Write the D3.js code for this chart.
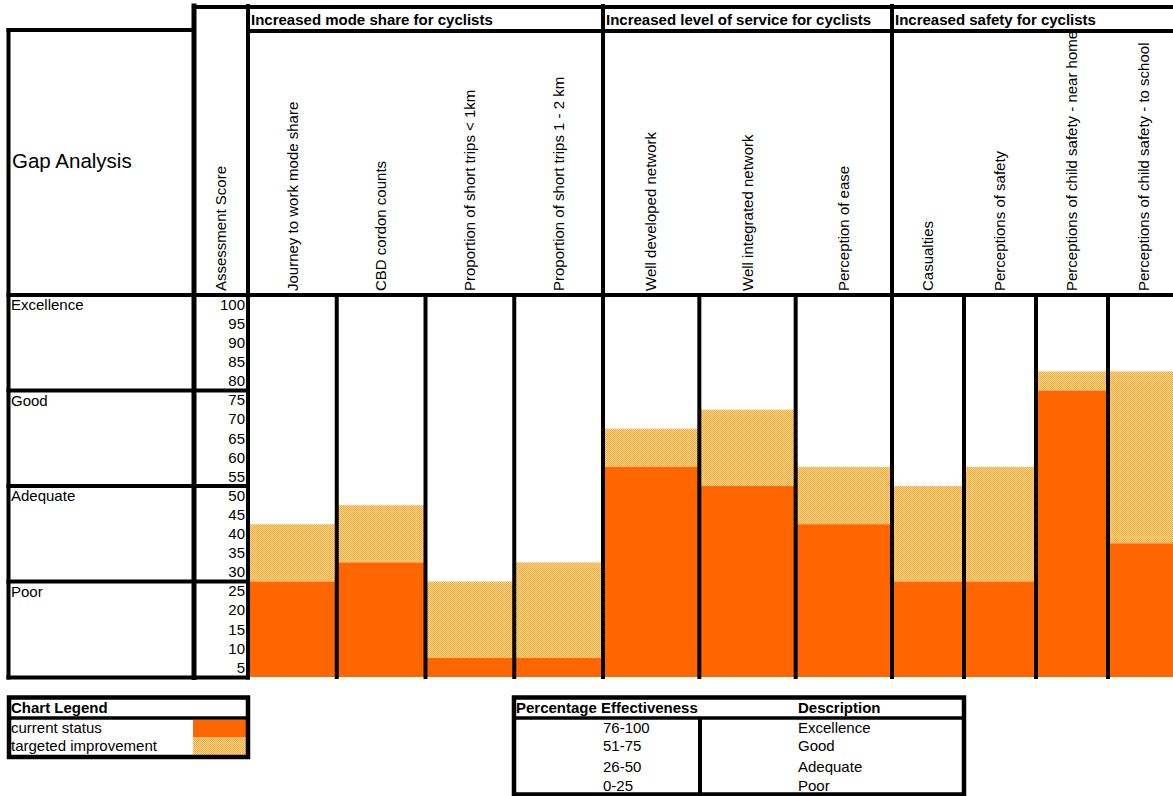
<!DOCTYPE html>
<html><head><meta charset="utf-8">
<script src="https://cdn.jsdelivr.net/npm/d3@7"></script>
<style>
body{margin:0;background:#fff}
svg{display:block}
text{font-family:"Liberation Sans",Arial,Helvetica,sans-serif;fill:#000}
</style>
</head><body>
<svg id="c" width="1173" height="796"></svg>
<script>
// ---------------- DATA ----------------
const groupNames = ["Increased mode share for cyclists", "Increased level of service for cyclists", "Increased safety for cyclists"];
const categories = [
  "Journey to work mode share", "CBD cordon counts", "Proportion of short trips < 1km", "Proportion of short trips 1 - 2 km",
  "Well developed network", "Well integrated network", "Perception of ease",
  "Casualties", "Perceptions of safety", "Perceptions of child safety - near home", "Perceptions of child safety - to school"
];
const categoryGroup = [0, 0, 0, 0, 1, 1, 1, 2, 2, 2, 2];
const currentStatus = [25, 30, 5, 5, 55, 50, 40, 25, 25, 75, 35];
const targetedImprovement = [40, 45, 25, 30, 65, 70, 55, 50, 55, 80, 80];
const bandNames = ["Excellence", "Good", "Adequate", "Poor"];
const bandTops = [100, 75, 50, 25];
const scoreTicks = [100, 95, 90, 85, 80, 75, 70, 65, 60, 55, 50, 45, 40, 35, 30, 25, 20, 15, 10, 5];
const legendLabels = ["current status", "targeted improvement"];
const rangeLabels = ["76-100", "51-75", "26-50", "0-25"];
const rangeDescriptions = ["Excellence", "Good", "Adequate", "Poor"];

// ---------------- LAYOUT ----------------
const svg = d3.select("#c");
const ORANGE = "#FF6600";
const LW = 4;
const top0 = 295, bottom0 = 677;
const groupExtents = [[248, 603], [603, 892], [892, 1180]];

const y = d3.scaleLinear().domain([0, 100]).range([bottom0, top0]);
const xs = groupNames.map((g, gi) => d3.scaleBand()
  .domain(categories.filter((c, i) => categoryGroup[i] === gi))
  .range(groupExtents[gi]).paddingInner(0).paddingOuter(0));
const colX = (i) => xs[categoryGroup[i]](categories[i]);
const colW = (i) => xs[categoryGroup[i]].bandwidth();

svg.append("rect").attr("width", 1173).attr("height", 796).attr("fill", "#fff");

// hatch pattern (fine checker of orange and pale orange)
const defs = svg.append("defs");
const pat = defs.append("pattern").attr("id", "hatch").attr("patternUnits", "userSpaceOnUse")
  .attr("width", 2).attr("height", 2);
pat.append("rect").attr("width", 2).attr("height", 2).attr("fill", "#FFE2A8");
pat.append("rect").attr("x", 0).attr("y", 0).attr("width", 1).attr("height", 1).attr("fill", "#FFA024");
pat.append("rect").attr("x", 1).attr("y", 1).attr("width", 1).attr("height", 1).attr("fill", "#FFA024");

// ---------------- BARS ----------------
const idx = d3.range(categories.length);
svg.append("g").selectAll("rect").data(idx).join("rect")
  .attr("x", i => colX(i)).attr("width", i => colW(i))
  .attr("y", i => y(targetedImprovement[i]))
  .attr("height", i => y(currentStatus[i]) - y(targetedImprovement[i]))
  .attr("fill", "url(#hatch)");
svg.append("g").selectAll("rect").data(idx).join("rect")
  .attr("x", i => colX(i)).attr("width", i => colW(i))
  .attr("y", i => y(currentStatus[i]))
  .attr("height", i => y(0) - y(currentStatus[i]))
  .attr("fill", ORANGE);

// ---------------- TEXT ----------------
svg.append("text").attr("x", 12).attr("y", 168).attr("font-size", 20.5).text("Gap Analysis");
svg.append("text").attr("transform", "translate(220.5,291) rotate(-90)").attr("dy", "0.35em")
  .attr("font-size", 15).text("Assessment Score");
svg.append("g").selectAll("text").data(idx).join("text")
  .attr("transform", i => `translate(${colX(i) + colW(i) / 2},291) rotate(-90)`)
  .attr("dy", "0.35em").attr("font-size", 15)
  .text(i => categories[i]);
svg.append("g").selectAll("text").data(groupNames).join("text")
  .attr("x", (d, gi) => groupExtents[gi][0] + 3).attr("y", 24.5)
  .attr("font-size", 15).attr("font-weight", "bold").text(d => d);
svg.append("g").selectAll("text").data(bandNames).join("text")
  .attr("x", 11).attr("y", (d, bi) => y(bandTops[bi]) + 10).attr("dy", "0.35em")
  .attr("font-size", 15).text(d => d);
const scoreBand = d3.scaleBand().domain(scoreTicks).range([top0, bottom0]);
const ax = svg.append("g").attr("transform", "translate(245,0)")
  .call(d3.axisLeft(scoreBand).tickSize(0).tickPadding(0));
ax.select(".domain").remove();
ax.attr("font-family", null).attr("font-size", null);
ax.selectAll("text").attr("font-size", 15).attr("fill", "#000").attr("dy", "0.35em");

// ---------------- GRID LINES ----------------
const lines = svg.append("g").attr("stroke", "#000").attr("stroke-width", LW).attr("stroke-linecap", "square");
const hl = (x1, x2, yy, w) => lines.append("line").attr("x1", x1).attr("x2", x2).attr("y1", yy).attr("y2", yy).attr("stroke-width", w || LW);
const vl = (xx, y1, y2, w) => lines.append("line").attr("x1", xx).attr("x2", xx).attr("y1", y1).attr("y2", y2).attr("stroke-width", w || LW);

hl(194, 1175, 7);
hl(248, 1175, 31);
hl(8.5, 194, 30);
hl(8.5, 1175, top0);
bandTops.slice(1).forEach(b => hl(8.5, 248, y(b)));
hl(8.5, 248, bottom0 + 0.5);
vl(8.5, 30, bottom0 + 0.5);
vl(194, 6, bottom0 + 0.5, 5);
vl(248, 6, bottom0 + 0.5);
groupExtents.slice(1).forEach(e => vl(e[0], 6, bottom0));
idx.forEach(i => {
  const s = xs[categoryGroup[i]];
  if (s.domain()[0] !== categories[i]) vl(colX(i), top0, bottom0);
});

// ---------------- CHART LEGEND ----------------
const lg = svg.append("g");
lg.append("text").attr("x", 11).attr("y", 708).attr("dy", "0.35em").attr("font-size", 15).attr("font-weight", "bold").text("Chart Legend");
lg.selectAll("text.item").data(legendLabels).join("text").attr("class", "item")
  .attr("x", 11).attr("y", (d, k) => 728 + k * 18).attr("dy", "0.35em").attr("font-size", 15).text(d => d);
lg.append("rect").attr("x", 193).attr("y", 720).attr("width", 54).attr("height", 17.5).attr("fill", ORANGE);
lg.append("rect").attr("x", 193).attr("y", 737.5).attr("width", 54).attr("height", 17.5).attr("fill", "url(#hatch)");
lg.append("rect").attr("x", 9).attr("y", 697.5).attr("width", 239).attr("height", 59.5)
  .attr("fill", "none").attr("stroke", "#000").attr("stroke-width", 4.5);
lg.append("line").attr("x1", 9).attr("x2", 248).attr("y1", 718).attr("y2", 718).attr("stroke", "#000").attr("stroke-width", 3.5);

// ---------------- PERCENTAGE TABLE ----------------
const pt = svg.append("g");
pt.append("text").attr("x", 516).attr("y", 708).attr("dy", "0.35em").attr("font-size", 15).attr("font-weight", "bold").text("Percentage Effectiveness");
pt.append("text").attr("x", 798).attr("y", 708).attr("dy", "0.35em").attr("font-size", 15).attr("font-weight", "bold").text("Description");
const rowY = [728, 746, 767, 786];
pt.selectAll("text.r").data(rangeLabels).join("text").attr("class", "r")
  .attr("x", 603).attr("y", (d, k) => rowY[k]).attr("dy", "0.35em").attr("font-size", 15).text(d => d);
pt.selectAll("text.d").data(rangeDescriptions).join("text").attr("class", "d")
  .attr("x", 798).attr("y", (d, k) => rowY[k]).attr("dy", "0.35em").attr("font-size", 15).text(d => d);
pt.append("rect").attr("x", 514).attr("y", 697.5).attr("width", 450).attr("height", 97)
  .attr("fill", "none").attr("stroke", "#000").attr("stroke-width", 4.5);
pt.append("line").attr("x1", 514).attr("x2", 964).attr("y1", 718).attr("y2", 718).attr("stroke", "#000").attr("stroke-width", 3.5);
pt.append("line").attr("x1", 700).attr("x2", 700).attr("y1", 718).attr("y2", 795).attr("stroke", "#000").attr("stroke-width", 4);
</script>
</body></html>
